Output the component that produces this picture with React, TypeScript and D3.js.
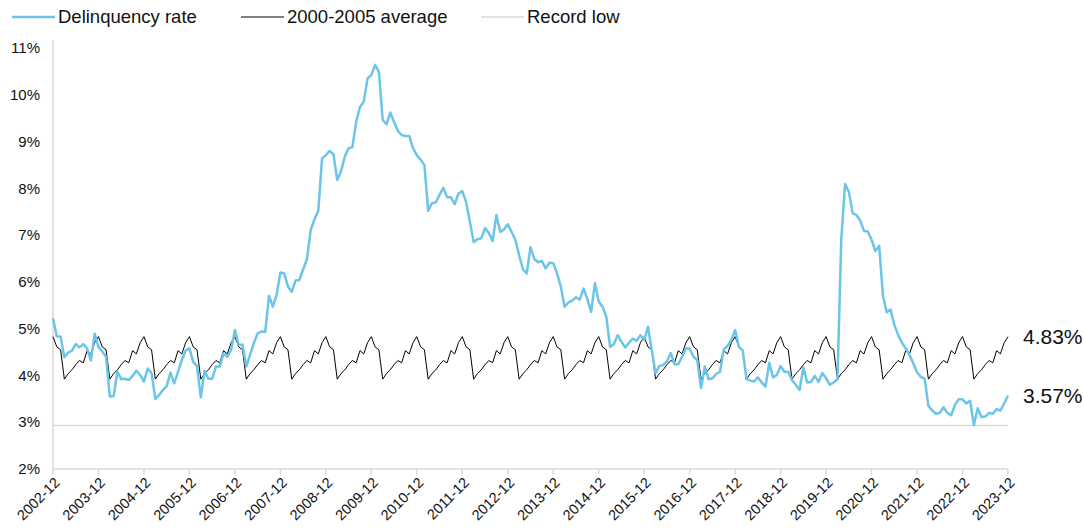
import React from "react";
import * as d3 from "d3";

const START_YEAR = 2002;
const START_MONTH = 12;

const delinquency: number[] = [
  5.22, 4.84, 4.83, 4.39, 4.49, 4.53, 4.67, 4.6, 4.67, 4.58, 4.32, 4.89,
  4.61, 4.51, 4.4, 3.55, 3.56, 4.08, 3.92, 3.93, 3.9, 3.99, 4.1, 4.01,
  3.87, 4.15, 4.05, 3.5, 3.58, 3.69, 3.77, 4.06, 3.83, 4.08, 4.33, 4.53,
  4.58, 4.29, 4.2, 3.53, 4.1, 3.93, 3.93, 4.19, 4.19, 4.47, 4.4, 4.54,
  4.97, 4.65, 4.66, 4.19, 4.44, 4.69, 4.9, 4.94, 4.93, 5.7, 5.47, 5.72,
  6.2, 6.18, 5.9, 5.79, 6.03, 6.04, 6.27, 6.48, 7.11, 7.34, 7.52, 8.64,
  8.71, 8.8, 8.73, 8.18, 8.36, 8.68, 8.86, 8.88, 9.42, 9.74, 9.85, 10.35,
  10.42, 10.64, 10.49, 9.46, 9.37, 9.62, 9.42, 9.23, 9.14, 9.12, 9.12, 8.86,
  8.71, 8.61, 8.5, 7.52, 7.68, 7.7, 7.86, 8.01, 7.81, 7.81, 7.66, 7.89,
  7.94, 7.71, 7.29, 6.85, 6.91, 6.93, 7.15, 7.05, 6.87, 7.43, 7.07, 7.12,
  7.23, 7.07, 6.9, 6.57, 6.27, 6.18, 6.74, 6.49, 6.42, 6.45, 6.29, 6.41,
  6.4, 6.18, 5.9, 5.47, 5.56, 5.6, 5.67, 5.62, 5.86, 5.63, 5.36, 5.97,
  5.58, 5.47, 5.26, 4.61, 4.67, 4.86, 4.72, 4.6, 4.7, 4.79, 4.74, 4.86,
  4.76, 5.04, 4.54, 4.05, 4.2, 4.22, 4.3, 4.48, 4.24, 4.24, 4.4, 4.58,
  4.57, 4.4, 4.33, 3.73, 4.19, 3.92, 3.94, 4.03, 4.08, 4.56, 4.63, 4.76,
  4.97, 4.61, 4.53, 3.92, 3.89, 3.87, 3.96, 3.85, 3.76, 4.27, 3.96, 4.01,
  4.2, 4.08, 4.08, 3.9, 3.8, 3.69, 4.17, 3.85, 3.86, 3.99, 3.86, 4.05,
  3.94, 3.8, 3.85, 3.92, 6.9, 8.09, 7.93, 7.47, 7.43, 7.31, 7.09, 7.08,
  6.9, 6.66, 6.77, 5.7, 5.35, 5.41, 5.08, 4.87, 4.7, 4.58, 4.44, 4.26,
  4.07, 3.97, 3.93, 3.35, 3.25, 3.18, 3.2, 3.32, 3.2, 3.15, 3.37, 3.49,
  3.49, 3.4, 3.46, 2.94, 3.3, 3.11, 3.12, 3.2, 3.18, 3.28, 3.25, 3.4,
  3.57,
];

// 2000-2005 average by calendar month (Jan..Dec)
const seasonalAverage: number[] = [
  4.61, 4.55, 3.92, 4.04, 4.12, 4.23, 4.32, 4.27, 4.53, 4.46, 4.7, 4.83,
];

const recordLow = 2.93;

const yTicks: number[] = [2, 3, 4, 5, 6, 7, 8, 9, 10, 11];
const xTickLabels: string[] = [
  "2002-12", "2003-12", "2004-12", "2005-12", "2006-12", "2007-12",
  "2008-12", "2009-12", "2010-12", "2011-12", "2012-12", "2013-12",
  "2014-12", "2015-12", "2016-12", "2017-12", "2018-12", "2019-12",
  "2020-12", "2021-12", "2022-12", "2023-12",
];

const legendItems = [
  { label: "Delinquency rate", color: "#6cc4e8", width: 2.5 },
  { label: "2000-2005 average", color: "#000000", width: 1 },
  { label: "Record low", color: "#d9d9d9", width: 1.5 },
];

const W = 1084;
const H = 529;
const margin = { left: 53, right: 76, top: 48, bottom: 60 };
const FONT = "'Liberation Sans', Arial, Helvetica, sans-serif";

export default function App() {
  const n = delinquency.length;
  const x = d3
    .scaleLinear()
    .domain([0, n - 1])
    .range([margin.left, W - margin.right]);
  const y = d3
    .scaleLinear()
    .domain([2, 11])
    .range([H - margin.bottom, margin.top]);

  const avgSeries = d3.range(n).map((i) => {
    const month = (START_MONTH - 1 + i) % 12; // 0=Jan
    return seasonalAverage[month];
  });

  const line = d3
    .line<number>()
    .x((_, i) => x(i))
    .y((d) => y(d));

  const tickIndex = (label: string) => {
    const [yy, mm] = label.split("-").map(Number);
    return (yy - START_YEAR) * 12 + (mm - START_MONTH);
  };

  const y0 = y(2);
  const legendX = [12, 241, 481];

  return (
    <svg
      width={W}
      height={H}
      style={{ position: "fixed", left: 0, top: 0, background: "#fff" }}
      fontFamily={FONT}
    >
      {/* Legend */}
      {legendItems.map((it, i) => (
        <g key={it.label} transform={`translate(${legendX[i]},17)`}>
          <line x1={0} x2={43} y1={0} y2={0} stroke={it.color} strokeWidth={it.width} />
          <text x={46} y={0} dy="0.35em" fontSize={18.5} fill="#111">
            {it.label}
          </text>
        </g>
      ))}

      {/* Axes */}
      <line x1={margin.left} x2={margin.left} y1={margin.top - 8} y2={y0} stroke="#d9d9d9" strokeWidth={1.5} />
      <line x1={margin.left} x2={W - margin.right} y1={y0} y2={y0} stroke="#d9d9d9" strokeWidth={1.5} />

      {yTicks.map((t) => (
        <text
          key={t}
          x={40}
          y={y(t)}
          dy="0.35em"
          textAnchor="end"
          fontSize={15}
          fill="#111"
        >
          {`${t}%`}
        </text>
      ))}

      {xTickLabels.map((lab) => {
        const xi = x(tickIndex(lab));
        return (
          <g key={lab}>
            <line x1={xi} x2={xi} y1={y0} y2={y0 + 5} stroke="#d9d9d9" strokeWidth={1.5} />
            <text
              transform={`translate(${xi + 4},${y0 + 11}) rotate(-45)`}
              textAnchor="end"
              dy="0.35em"
              fontSize={14.5}
              fill="#111"
            >
              {lab}
            </text>
          </g>
        );
      })}

      {/* Record low */}
      <line
        x1={margin.left}
        x2={x(n - 1)}
        y1={y(recordLow)}
        y2={y(recordLow)}
        stroke="#d9d9d9"
        strokeWidth={1.5}
      />

      {/* Average */}
      <path d={line(avgSeries) || ""} fill="none" stroke="#000" strokeWidth={1} strokeLinejoin="round" />

      {/* Delinquency */}
      <path d={line(delinquency) || ""} fill="none" stroke="#6cc4e8" strokeWidth={2.5} strokeLinejoin="round" />

      {/* End labels */}
      <text x={1023} y={y(avgSeries[n - 1])} dy="0.35em" fontSize={21} fill="#111">
        {`${avgSeries[n - 1].toFixed(2)}%`}
      </text>
      <text x={1023} y={y(delinquency[n - 1])} dy="0.35em" fontSize={21} fill="#111">
        {`${delinquency[n - 1].toFixed(2)}%`}
      </text>
    </svg>
  );
}
